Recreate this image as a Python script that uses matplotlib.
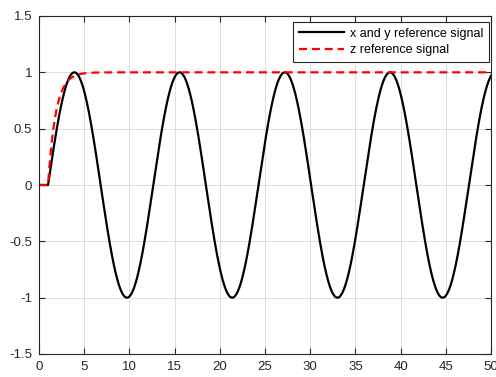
import numpy as np
import matplotlib
matplotlib.use("Agg")
import matplotlib.pyplot as plt

plt.rcParams['font.family'] = ['Liberation Sans', 'DejaVu Sans']

# Simulation time base and reference-signal parameters
t_end = 50.0
t_start = 1.0          # both references switch on at t = 1 s
period = 11.64         # period of the x/y sinusoid
amplitude = 1.0
z_final = 1.0          # z step target
z_tau = 0.85           # time constant of the smoothed z step

x_ticks = [0, 5, 10, 15, 20, 25, 30, 35, 40, 45, 50]
y_ticks = [-1.5, -1, -0.5, 0, 0.5, 1, 1.5]
y_labels = ["-1.5", "-1", "-0.5", "0", "0.5", "1", "1.5"]
legend_labels = ["x and y reference signal", "z reference signal"]

t = np.linspace(0, t_end, 5001)
on = t >= t_start
xy_ref = np.where(on, amplitude * np.sin(2 * np.pi * (t - t_start) / period), 0.0)
z_ref = np.where(on, z_final * (1 - np.exp(-(t - t_start) / z_tau)), 0.0)

W, H = 496, 377
fig = plt.figure(figsize=(W / 100, H / 100), dpi=100)
ax = fig.add_axes([39 / W, 23 / H, 452 / W, 338 / H])

ax.plot(t, xy_ref, color="black", lw=1.6, label=legend_labels[0])
ax.plot(t, z_ref, color="red", lw=1.6, ls=(0, (3.6, 2.2)), label=legend_labels[1])

ax.set_xlim(0, t_end)
ax.set_ylim(-1.5, 1.5)
ax.set_xticks(x_ticks)
ax.set_yticks(y_ticks)
ax.set_yticklabels(y_labels)
ax.grid(True, color="#dcdcdc", lw=0.7)
ax.set_axisbelow(True)
ax.tick_params(direction="in", top=True, right=True, length=4, width=0.8,
               labelsize=9.5, colors="#262626", pad=5)
for s in ax.spines.values():
    s.set_color("#262626")
    s.set_linewidth(0.8)

leg = ax.legend(loc="upper right", bbox_to_anchor=(489 / W, 1 - 22 / H),
                bbox_transform=fig.transFigure, borderaxespad=0,
                fontsize=9, frameon=True, fancybox=False,
                edgecolor="#262626", framealpha=1,
                handlelength=3.6, handletextpad=0.5, borderpad=0.45,
                labelspacing=0.35)
leg.get_frame().set_linewidth(0.8)

fig.savefig("out.png", dpi=100)
